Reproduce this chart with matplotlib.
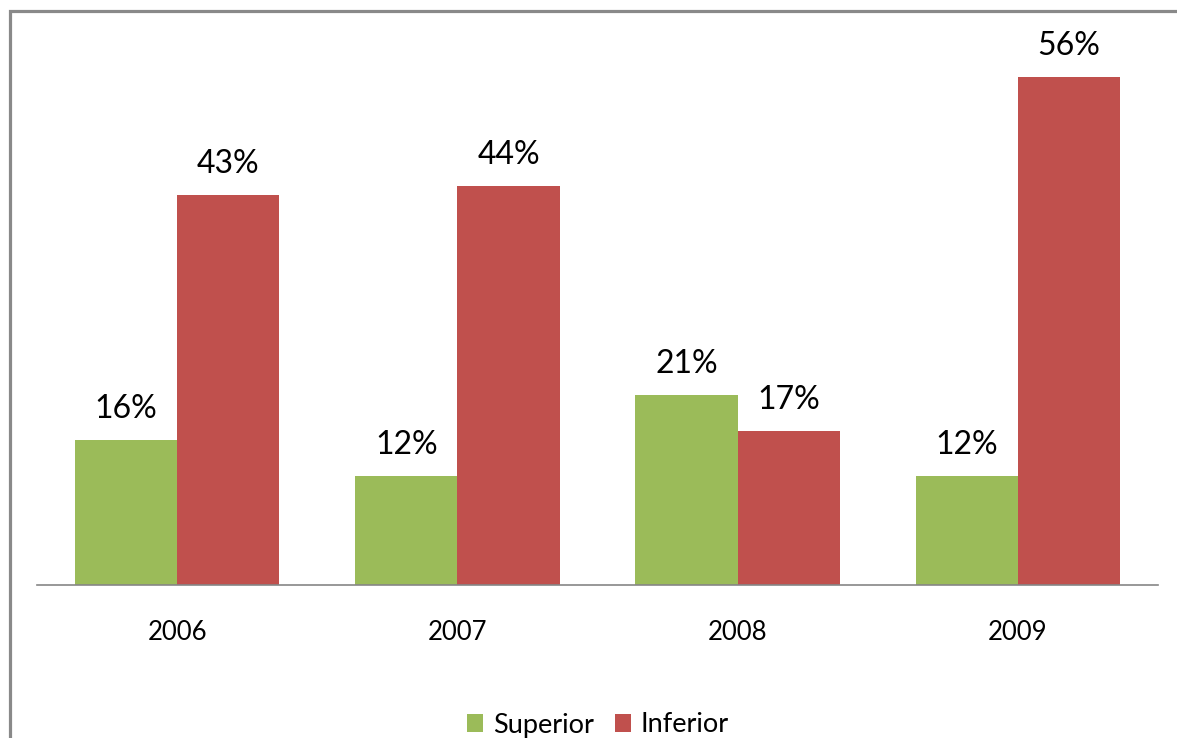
import numpy as np
import matplotlib.pyplot as plt
from matplotlib.patches import Rectangle

years = ["2006", "2007", "2008", "2009"]
superior = [16, 12, 21, 12]
inferior = [43, 44, 17, 56]

green = "#9BBB59"
red = "#C0504D"

plt.rcParams['font.family'] = ['Lato', 'DejaVu Sans']

W, H = 1177, 738
fig = plt.figure(figsize=(W / 100, H / 100), dpi=100)
ax = fig.add_axes([37 / W, (H - 585) / H, (1158 - 37) / W, 544 / H])

x = np.arange(len(years))
bw = 0.365
b1 = ax.bar(x - bw / 2, superior, bw, color=green, label="Superior")
b2 = ax.bar(x + bw / 2, inferior, bw, color=red, label="Inferior")

for bars, vals in ((b1, superior), (b2, inferior)):
    for rect, v in zip(bars, vals):
        ax.annotate(f"{v}%", (rect.get_x() + rect.get_width() / 2, rect.get_height()),
                    xytext=(0, 22 * 0.72), textcoords="offset points",
                    ha="center", va="baseline", fontsize=23, color="black")

ax.set_xlim(-0.5, len(years) - 0.5)
ax.set_ylim(0, 60)
ax.set_xticks(x)
ax.set_xticklabels(years, fontsize=18.5)
ax.tick_params(axis="x", length=0, pad=25)
ax.set_yticks([])
for s in ("left", "right", "top"):
    ax.spines[s].set_visible(False)
ax.spines["bottom"].set_color("#868686")
ax.spines["bottom"].set_linewidth(1.2)

ax.legend(loc="center", bbox_to_anchor=(598 / W, 1 - 725 / H), bbox_transform=fig.transFigure,
          ncol=2, frameon=False, fontsize=19.5, handlelength=0.6, handleheight=0.6,
          handletextpad=0.35, columnspacing=0.8)

frame = Rectangle((9.5 / W, -0.2), 1.2, 1.2 - 11 / H, transform=fig.transFigure,
                  fill=False, edgecolor="#898989", linewidth=2.3, clip_on=False)
fig.patches.append(frame)

fig.savefig("out.png", dpi=100)
